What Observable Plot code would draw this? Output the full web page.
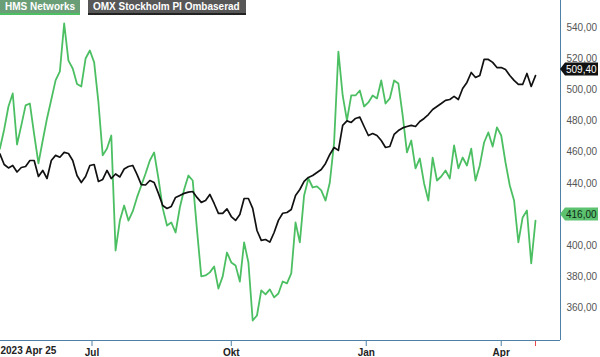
<!DOCTYPE html>
<html><head><meta charset="utf-8">
<script src="https://cdn.jsdelivr.net/npm/d3@7"></script>
<script src="https://cdn.jsdelivr.net/npm/@observablehq/plot@0.6"></script>
<style>
html,body{margin:0;padding:0;background:#fff;}
#chart{position:relative;width:600px;height:357px;overflow:hidden;font-family:"Liberation Sans",Arial,sans-serif;}
.leg{position:absolute;top:0;height:15px;line-height:13px;font-size:10px;font-weight:bold;color:#fff;padding:0 0 0 5px;box-sizing:border-box;white-space:nowrap;}
</style></head><body><div id="chart"></div>
<script>
// ---- data ----
const seriesNames = ["HMS Networks", "OMX Stockholm PI Ombaserad"];
const seriesColors = ["#4cbf63", "#111111"];
const startDate = "2023-04-25";
const endDate = "2024-04-24";
const holidays = ["2023-05-01","2023-05-18","2023-06-06","2023-06-23","2023-12-25","2023-12-26","2024-01-01","2024-03-29","2024-04-01"];
const firstLabel = "2023 Apr 25";
const monthTickMonths = ["2023-07","2023-10","2024-01","2024-04"];
const monthTickLabels = ["Jul","Okt","Jan","Apr"];
const yTicks = [360,380,400,420,440,460,480,500,520,540];
// one value every second trading day
const hms = [461.2,462.3,474.7,489.5,497.9,465.0,477.3,490.2,491.4,471.5,
  452.8,467.6,481.8,494.0,506.3,512.1,543.0,519.1,514.0,504.0,
  502.4,520.4,525.6,517.9,492.1,458.0,462.4,470.8,396.7,416.0,
  425.7,416.0,421.9,430.9,438.6,446.3,454.7,459.9,443.1,424.0,
  412.8,414.8,408.3,424.4,436.0,445.0,441.8,410.0,380.0,380.6,
  382.6,386.4,372.2,380.0,395.4,389.0,387.1,376.7,401.9,389.0,
  351.6,354.8,371.0,368.4,371.6,366.5,369.0,376.7,375.5,381.9,
  414.8,401.9,432.2,443.1,437.3,438.0,435.4,428.9,440.5,466.3,
  524.9,496.6,480.5,496.6,496.6,499.8,489.5,492.1,496.6,494.7,
  506.3,491.4,494.7,506.3,504.3,483.7,459.9,467.6,449.6,456.0,
  439.9,428.9,456.6,441.8,444.4,448.3,443.1,464.4,449.6,456.6,
  451.5,462.3,441.8,451.5,466.3,472.8,463.7,476.0,470.8,453.4,
  438.6,428.9,401.9,418.0,422.5,388.4,416.0];
const omx = [458.0,459.0,452.1,449.9,451.5,447.3,450.2,450.8,454.7,454.7,
  444.4,448.3,443.1,454.7,458.0,456.8,459.9,459.2,454.7,445.0,
  440.5,444.4,451.5,452.1,441.2,442.5,448.3,443.1,446.0,444.1,
  449.2,450.8,451.5,445.7,439.2,438.9,441.8,440.5,433.5,425.7,
  423.8,425.1,430.9,432.2,433.5,434.3,434.7,430.9,427.7,428.9,
  432.8,427.0,420.6,420.6,423.5,418.6,416.1,419.9,430.2,430.2,
  423.8,409.6,403.2,403.8,402.1,408.3,416.1,420.7,421.2,423.1,
  432.2,436.0,441.2,443.8,445.0,447.0,448.9,452.8,458.6,463.1,
  461.2,477.3,480.2,479.2,481.8,482.7,476.6,470.8,472.1,470.8,
  467.6,463.1,463.7,471.5,474.0,475.7,476.6,477.3,476.6,479.8,
  481.8,484.3,487.6,489.5,491.4,493.4,494.0,496.0,494.0,501.1,
  505.0,511.4,508.2,509.5,519.8,519.8,517.9,514.6,514.6,513.3,
  509.5,506.3,503.7,503.7,510.8,502.4,509.4];

// ---- trading calendar ----
const tradingDays = [];
for (let t = Date.parse(startDate + "T00:00:00Z"); t <= Date.parse(endDate + "T00:00:00Z"); t += 864e5) {
  const d = new Date(t), wd = d.getUTCDay(), s = d.toISOString().slice(0, 10);
  if (wd !== 0 && wd !== 6 && !holidays.includes(s)) tradingDays.push(s);
}
const N = tradingDays.length;
const step = 2;
const rows = hms.map((v, k) => ({i: k * step, date: tradingDays[k * step], hms: v, omx: omx[k]}));
const tickIdx = monthTickMonths.map(m => tradingDays.findIndex(d => d.startsWith(m)));
const labelMap = new Map(tickIdx.map((t, j) => [t, monthTickLabels[j]]));
const fmt = v => v.toFixed(2).replace(".", ",");

const W = 600, H = 357, mR = 40, mB = 17;
const plot = Plot.plot({
  width: W, height: H, marginTop: 0, marginRight: mR, marginBottom: mB, marginLeft: 0,
  style: {fontFamily: '"Liberation Sans", Arial, sans-serif', fontSize: "10px", background: "transparent", overflow: "visible"},
  x: {domain: [0, N - 1], range: [-4.9, 535]},
  y: {domain: [338.7, 557.8]},
  marks: [
    Plot.axisY(yTicks, {anchor: "right", tickSize: 0, tickPadding: 6, tickFormat: fmt, fill: "#555", label: null}),
    Plot.axisX(tickIdx, {anchor: "bottom", tickSize: 6, tickPadding: 2, tickFormat: d => labelMap.get(d), stroke: "#4f81a6", fill: "#222", fontWeight: "bold", label: null}),
    Plot.axisX([N - 1], {anchor: "bottom", tickSize: 6, tickFormat: () => "", stroke: "#e8474c", label: null}),
    Plot.text([firstLabel], {frameAnchor: "bottom-left", text: d => d, dy: 13, textAnchor: "start", fontWeight: "bold", fill: "#222"}),
    Plot.lineY(rows, {x: "i", y: "hms", stroke: seriesColors[0], strokeWidth: 1.8, clip: true}),
    Plot.lineY(rows, {x: "i", y: "omx", stroke: seriesColors[1], strokeWidth: 1.7, clip: true})
  ]
});

const svg = d3.select(plot);
const fx = W - mR, fy = H - mB;
svg.append("line").attr("x1", 0).attr("x2", fx).attr("y1", fy + 0.5).attr("y2", fy + 0.5).attr("stroke", "#4f81a6");
svg.append("line").attr("x1", fx + 0.5).attr("x2", fx + 0.5).attr("y1", 0).attr("y2", fy).attr("stroke", "#4f81a6");

const ys = plot.scale("y");
[[hms[hms.length - 1], "#5cc26f", "#0d2a14"], [omx[omx.length - 1], "#111", "#fff"]].forEach(([v, bg, fg]) => {
  const cy = ys.apply(v) - 6;
  const g = svg.append("g");
  g.append("path").attr("d", `M${fx},${cy} L${fx + 5},${cy - 6.5} L${W - 2},${cy - 6.5} L${W - 2},${cy + 6.5} L${fx + 5},${cy + 6.5} Z`).attr("fill", bg);
  g.append("text").attr("x", fx + 6).attr("y", cy).attr("dy", "0.35em").attr("fill", fg)
    .attr("text-anchor", "start")
    .attr("font-size", 10).attr("font-family", '"Liberation Sans", Arial, sans-serif').text(fmt(v));
});

const chart = document.getElementById("chart");
chart.appendChild(plot);
const legend = [
  {name: seriesNames[0], left: 0, width: 80, bg: "#6a9e77", line: "#4cbf63"},
  {name: seriesNames[1], left: 88, width: 158, bg: "#575757", line: "#222"}
];
legend.forEach(l => {
  const d = document.createElement("div");
  d.className = "leg";
  d.textContent = l.name;
  d.style.left = l.left + "px";
  d.style.width = l.width + "px";
  d.style.background = l.bg;
  d.style.borderBottom = "2px solid " + l.line;
  chart.appendChild(d);
});
</script></body></html>
